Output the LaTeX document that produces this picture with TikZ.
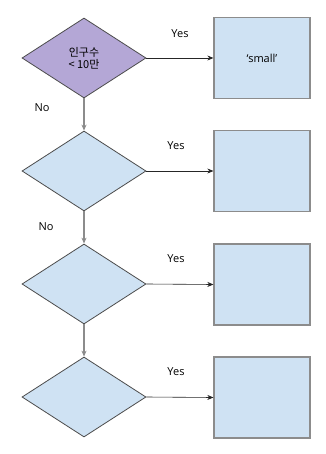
\documentclass[tikz,border=0pt]{standalone}
\usepackage{fontspec}
\setmainfont{Open Sans}
\newfontfamily\kr{Noto Sans CJK KR}
\usetikzlibrary{shapes.geometric,arrows.meta}
\definecolor{boxfill}{HTML}{CFE2F3}
\definecolor{purp}{HTML}{B4A7D6}
\tikzset{
  dec/.style={diamond, draw=black!70, line width=0.8pt, fill=boxfill, inner sep=0pt,
    minimum width=124pt, minimum height=80pt, aspect=1.55, align=center, font=\fontsize{11}{13}\selectfont},
  outbox/.style={rectangle, draw=black!45, line width=1.3pt, fill=boxfill,
    minimum width=96pt, minimum height=81pt, inner sep=0pt, font=\fontsize{11}{13}\selectfont},
  yesarrow/.style={draw=black!85, line width=0.6pt, -{Stealth[length=6pt,width=5pt]}},
  noarrow/.style={draw=black!45, line width=1.2pt, -{Stealth[length=6pt,width=5pt,fill=black!85]}},
  lbl/.style={font=\fontsize{11}{13}\selectfont, inner sep=0pt}
}
\begin{document}
\begin{tikzpicture}[x=1pt,y=-1pt]
\fill[white] (0,0) rectangle (325,454);
\useasboundingbox (0,0) rectangle (325,454);
\node[dec, fill=purp] (d1) at (84,58) {{\kr 인구수}\\[-1pt]{\kr < 10만}};
\node[dec] (d2) at (84,171) {};
\node[dec] (d3) at (84,284) {};
\node[dec] (d4) at (84,397) {};
\node[outbox] (b1) at (262,58) {‘small’};
\node[outbox] (b2) at (262,171) {};
\node[outbox] (b3) at (262,284.5) {};
\node[outbox] (b4) at (262,397.5) {};
\draw[yesarrow] (d1.east) -- (b1.west);
\draw[yesarrow] (d2.east) -- (b2.west);
\draw[yesarrow] (d3.east) -- (b3.west);
\draw[yesarrow] (d4.east) -- (b4.west);
\draw[noarrow] (d1.south) -- (d2.north);
\draw[noarrow] (d2.south) -- (d3.north);
\draw[noarrow] (d3.south) -- (d4.north);
\node[lbl] (y1) at (180,34) {Yes};
\node[lbl] (y2) at (176,146) {Yes};
\node[lbl] (y3) at (176,259) {Yes};
\node[lbl] (y4) at (176,372) {Yes};
\node[lbl] (n1) at (42,108) {No};
\node[lbl] (n2) at (46,227) {No};
\end{tikzpicture}
\end{document}
